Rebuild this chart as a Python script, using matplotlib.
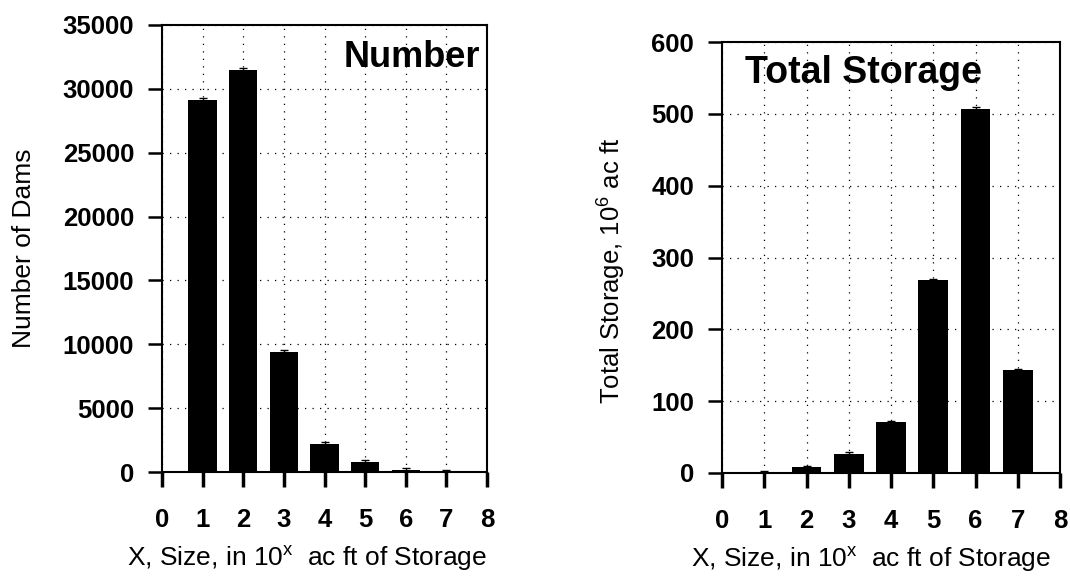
import numpy as np
import matplotlib.pyplot as plt

plt.rcParams['font.family'] = ['Liberation Sans', 'DejaVu Sans']

# size class x (10^x ac ft)
size_class = [1, 2, 3, 4, 5, 6, 7]
# number of dams per size class
n_dams = [29100, 31500, 9400, 2200, 800, 150, 20]
# total storage per size class, 10^6 ac ft
storage = [1, 8, 27, 71, 268, 507, 143]

xlabel = "X, Size, in 10$^{\\mathregular{x}}$  ac ft of Storage"


def style_axes(ax, ymax, ystep):
    ax.set_xlim(0, 8)
    ax.set_ylim(0, ymax)
    ax.set_xticks(range(0, 9))
    ax.set_yticks(np.arange(0, ymax + 1, ystep))
    ax.grid(True, color='black', linestyle=(0, (1, 5)), linewidth=0.9)
    ax.set_axisbelow(True)
    ax.tick_params(axis='y', direction='out', length=10, width=1.8, labelsize=18.5, pad=10)
    ax.tick_params(axis='x', direction='out', length=11, width=2.5, labelsize=18.5, pad=15)
    for sp in ax.spines.values():
        sp.set_linewidth(1.5)
    for lab in ax.get_xticklabels() + ax.get_yticklabels():
        lab.set_fontweight('semibold')


fig = plt.figure(figsize=(10.7, 5.76), dpi=100)
ax1 = fig.add_axes([162 / 1070, 1 - 472 / 576, 325 / 1070, 447 / 576])
ax2 = fig.add_axes([722 / 1070, 1 - 473 / 576, 338 / 1070, 431 / 576])

ax1.bar(size_class, n_dams, width=0.7, color='black')
ax1.errorbar(size_class, n_dams, yerr=[150] * 7, fmt='none', ecolor='black', capsize=3, lw=1)
style_axes(ax1, 35000, 5000)
ax1.set_ylabel("Number of Dams", fontsize=19, labelpad=19)
ax1.set_xlabel(xlabel, fontsize=19)
ax1.xaxis.set_label_coords(0.446, -0.16)
ax1.text(0.98, 0.928, "Number", transform=ax1.transAxes, ha='right', va='center',
         fontsize=26, fontweight='bold')

ax2.bar(size_class, storage, width=0.7, color='black')
ax2.errorbar(size_class, storage, yerr=[2] * 7, fmt='none', ecolor='black', capsize=3, lw=1)
style_axes(ax2, 600, 100)
ax2.set_ylabel("Total Storage, 10$^{\\mathregular{6}}$ ac ft", fontsize=18.5)
ax2.yaxis.set_label_coords(-0.282, 0.469)
ax2.set_xlabel(xlabel, fontsize=19)
ax2.xaxis.set_label_coords(0.441, -0.165)
ax2.text(0.068, 0.928, "Total Storage", transform=ax2.transAxes, ha='left', va='center',
         fontsize=27, fontweight='bold')

fig.savefig("out.png", dpi=100)
